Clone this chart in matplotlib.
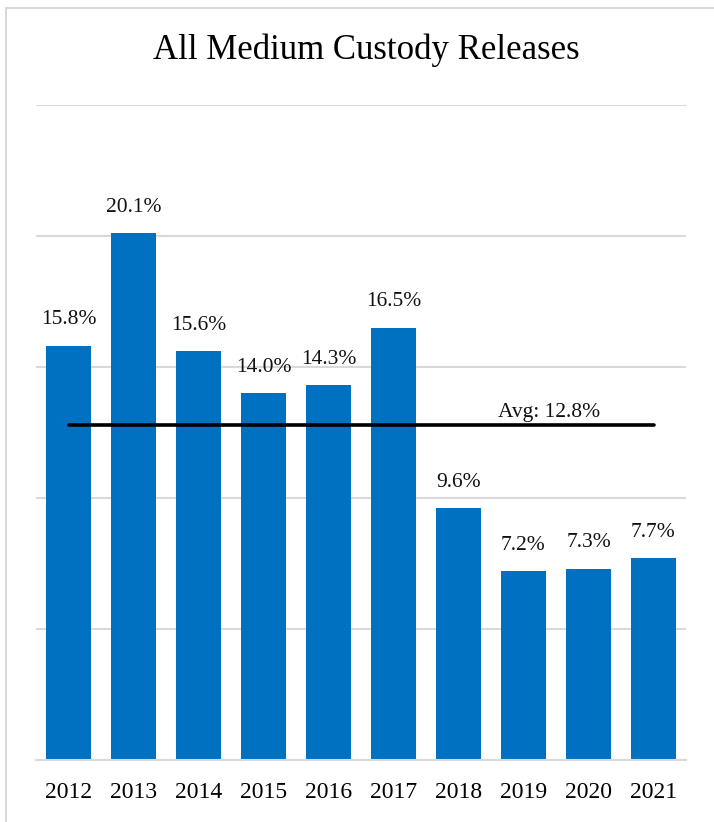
import matplotlib
matplotlib.use("Agg")
import matplotlib.pyplot as plt
from matplotlib.lines import Line2D

years = ["2012", "2013", "2014", "2015", "2016", "2017", "2018", "2019", "2020", "2021"]
rates = [15.8, 20.1, 15.6, 14.0, 14.3, 16.5, 9.6, 7.2, 7.3, 7.7]
average = 12.8
title = "All Medium Custody Releases"

plt.rcParams['font.family'] = ['Liberation Serif', 'DejaVu Serif']

W, H = 714, 822
fig = plt.figure(figsize=(W / 100, H / 100), dpi=100)
fig.patch.set_facecolor('white')

# outer chart border (only left/top visible)
bx, by = 6 / W, 1 - 8 / H
fig.lines.append(Line2D([bx, bx], [0, by], transform=fig.transFigure, color='#d9d9d9', linewidth=1.5))
fig.lines.append(Line2D([bx, 1], [by, by], transform=fig.transFigure, color='#d9d9d9', linewidth=1.5))

left, right = 36 / W, 686 / W
bottom, top = 1 - 760 / H, 1 - 105 / H
ax = fig.add_axes([left, bottom, right - left, top - bottom])

x = list(range(len(years)))
ax.bar(x, rates, width=0.70, color='#0070C0', zorder=2)
ax.set_xlim(-0.5, len(years) - 0.5)
ax.set_ylim(0, 25)
ax.set_yticks([0, 5, 10, 15, 20, 25])
ax.yaxis.grid(True, color='#d9d9d9', linewidth=1.5, zorder=0)
ax.tick_params(axis='y', left=False, labelleft=False)
ax.tick_params(axis='x', bottom=False, labelsize=17, pad=12)
ax.set_xticks(x)
ax.set_xticklabels(years)
for s in ['left', 'right', 'top']:
    ax.spines[s].set_visible(False)
ax.spines['bottom'].set_color('#d9d9d9')
ax.spines['bottom'].set_linewidth(1.5)

for xi, v in zip(x, rates):
    ax.annotate(f"{v:.1f}%", (xi, v), xytext=(0, 12), textcoords='offset points',
                ha='center', va='bottom', fontsize=15.5, color='#111111')

ax.plot([0, len(years) - 1], [average, average], color='black', linewidth=2.6, zorder=3,
        solid_capstyle='round')
ax.annotate(f"Avg: {average:.1f}%", (7.4, average), xytext=(0, 2), textcoords='offset points',
            ha='center', va='bottom', fontsize=15.5, color='#111111')

fig.text(366 / W, 1 - 50 / H, title, ha='center', va='center', fontsize=25, color='black')

fig.savefig("out.png", dpi=100, facecolor='white')
